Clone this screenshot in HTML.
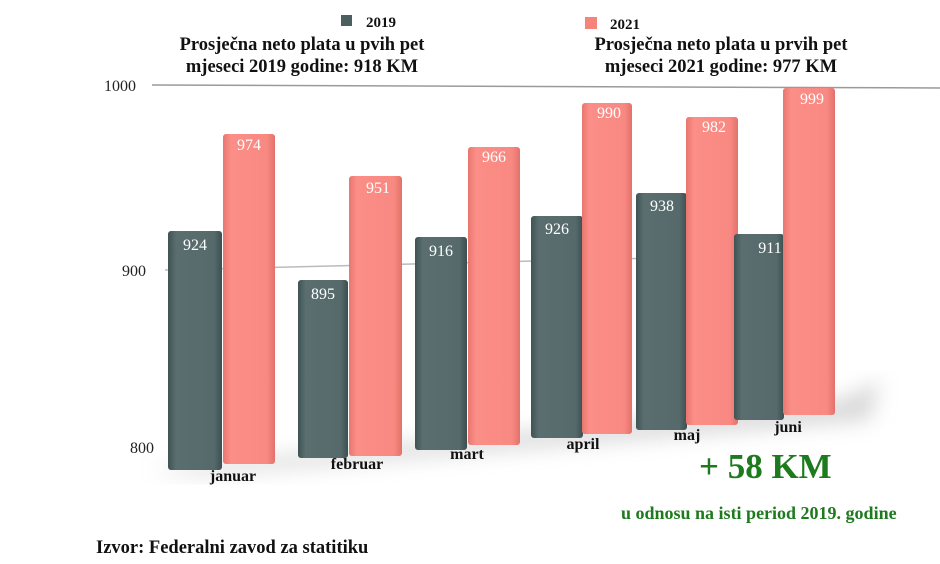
<!DOCTYPE html>
<html><head><meta charset="utf-8"><style>
body{margin:0;background:#fff;}
svg{display:block;font-family:"Liberation Serif",serif;font-weight:bold;}
</style></head><body>
<svg width="940" height="564" viewBox="0 0 940 564">
<defs>
<linearGradient id="g" x1="0" x2="1"><stop offset="0" stop-color="#3f5254"/><stop offset="0.15" stop-color="#5a6e70"/><stop offset="0.85" stop-color="#566a6c"/><stop offset="1" stop-color="#3c4e50"/></linearGradient>
<linearGradient id="p" x1="0" x2="1"><stop offset="0" stop-color="#e9766f"/><stop offset="0.15" stop-color="#fb8e87"/><stop offset="0.85" stop-color="#f88982"/><stop offset="1" stop-color="#e2716a"/></linearGradient>
<filter id="sh"><feGaussianBlur stdDeviation="10"/></filter>
</defs>
<line x1="152" y1="85" x2="940" y2="88" stroke="#9a9a9a" stroke-width="1.5"/>
<line x1="165" y1="270" x2="700" y2="257" stroke="#bbb" stroke-width="1.5"/>
<text x="104" y="91" font-size="16" fill="#222" font-weight="normal">1000</text>
<text x="122" y="276" font-size="16" fill="#222" font-weight="normal">900</text>
<text x="130" y="453" font-size="16" fill="#222" font-weight="normal">800</text>
<polygon points="150,470 840,400 880,380 870,420 200,475" fill="#c8c8c8" filter="url(#sh)" opacity="0.7"/>
<g>
<rect x="168" y="231" width="54" height="239" rx="3" fill="url(#g)"/>
<rect x="223" y="134" width="52" height="330" rx="3" fill="url(#p)"/>
<rect x="298" y="280" width="50" height="178" rx="3" fill="url(#g)"/>
<rect x="349" y="176" width="53" height="280" rx="3" fill="url(#p)"/>
<rect x="415" y="237" width="52" height="213" rx="3" fill="url(#g)"/>
<rect x="468" y="147" width="52" height="298" rx="3" fill="url(#p)"/>
<rect x="531" y="216" width="52" height="222" rx="3" fill="url(#g)"/>
<rect x="582" y="103" width="50" height="331" rx="3" fill="url(#p)"/>
<rect x="636" y="193" width="51" height="237" rx="3" fill="url(#g)"/>
<rect x="686" y="117" width="52" height="308" rx="3" fill="url(#p)"/>
<rect x="734" y="234" width="50" height="186" rx="3" fill="url(#g)"/>
<rect x="783" y="88" width="52" height="327" rx="3" fill="url(#p)"/>
</g>
<g fill="#fff" font-size="16" font-weight="normal" text-anchor="middle">
<text x="195" y="250">924</text><text x="249" y="150">974</text>
<text x="323" y="299">895</text><text x="378" y="193">951</text>
<text x="441" y="256">916</text><text x="494" y="162">966</text>
<text x="557" y="234">926</text><text x="609" y="118">990</text>
<text x="662" y="211">938</text><text x="714" y="132">982</text>
<text x="770" y="253">911</text><text x="812" y="104">999</text>
</g>
<g fill="#111" font-size="16" text-anchor="middle">
<text x="233" y="481">januar</text>
<text x="357" y="469">februar</text>
<text x="467" y="459">mart</text>
<text x="583" y="449">april</text>
<text x="687" y="440">maj</text>
<text x="788" y="432">juni</text>
</g>
<rect x="341" y="15" width="11" height="11" fill="#4b5e60"/>
<text x="366" y="27" font-size="15" fill="#111">2019</text>
<rect x="585" y="17" width="12" height="12" fill="#f5847d"/>
<text x="610" y="29" font-size="15" fill="#111">2021</text>
<g font-size="18.5" fill="#111" text-anchor="middle">
<text x="302" y="50">Prosječna neto plata u pvih pet</text>
<text x="302" y="72">mjeseci 2019 godine: 918 KM</text>
<text x="721" y="50">Prosječna neto plata u prvih pet</text>
<text x="721" y="72">mjeseci 2021 godine: 977 KM</text>
</g>
<text x="699" y="478" font-size="35" fill="#1d7a1d">+ 58 KM</text>
<text x="621" y="519" font-size="18" fill="#1d7a1d">u odnosu na isti period 2019. godine</text>
<text x="96" y="553" font-size="18.5" fill="#111">Izvor: Federalni zavod za statitiku</text>
</svg>
</body></html>
